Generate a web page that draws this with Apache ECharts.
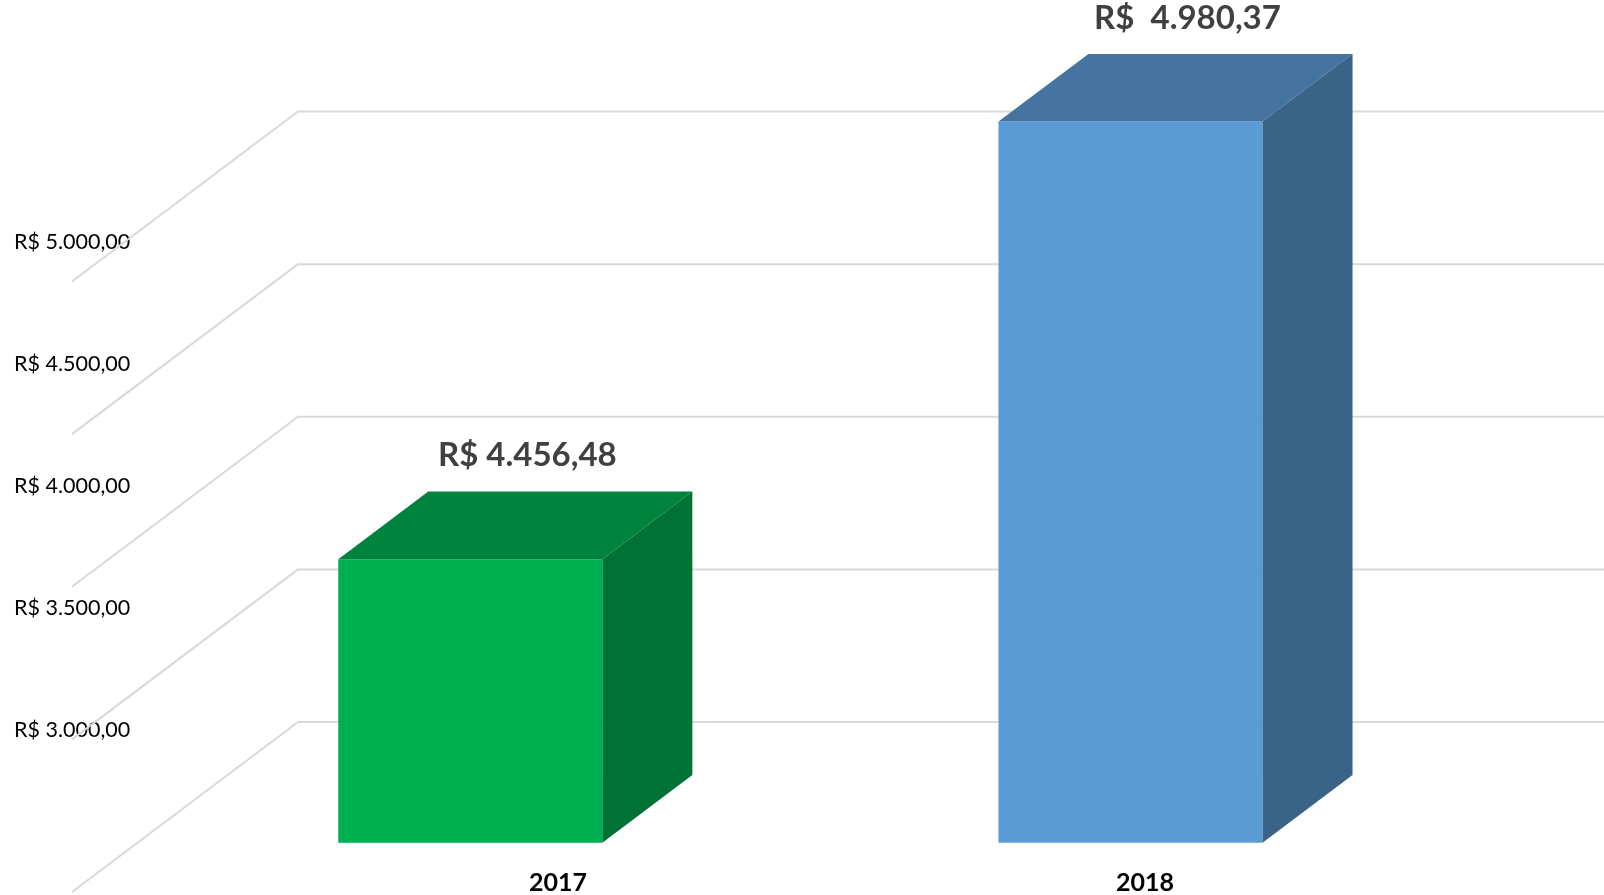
<!DOCTYPE html>
<html>
<head>
<meta charset="utf-8">
<script src="https://cdn.jsdelivr.net/npm/echarts@6/dist/echarts.min.js"></script>
<style>
html, body { margin: 0; padding: 0; background: #fff; }
#chart { width: 1604px; height: 895px; }
</style>
</head>
<body>
<div id="chart"></div>
<script>
// dados
const years = ['2017', '2018'];
const values = [4456.48, 4980.37];
const valueLabels = ['R$ 4.456,48', 'R$  4.980,37'];
const wallTicks = [3000, 3500, 4000, 4500, 5000];

// cores das faces (frente, topo, lado)
const frontColors = ['#00B050', '#5B9BD5'];
const topColors = ['#00843D', '#44749F'];
const sideColors = ['#007233', '#396387'];

// escala das barras (perspectiva do excel)
const barAxisMin = 4117;
const barAxisMax = 5100;

// profundidade
const barDepth = [90, -67.6];
const wallDepth = [-226, 170];

function brl(v) {
    let parts = v.toFixed(2).split('.');
    let int = parts[0].replace(/\B(?=(\d{3})+(?!\d))/g, '.');
    return 'R$ ' + int + ',' + parts[1];
}

let chartObj = echarts.init(document.getElementById('chart'));

function renderWall(params, api) {
    let p = api.coord([0, api.value(1)]);
    let cs = params.coordSys;
    let lineStyle = { stroke: '#D9D9D9', lineWidth: 2 };
    return {
        type: 'group',
        children: [
            {
                type: 'line',
                shape: { x1: p[0], y1: p[1], x2: cs.x + cs.width, y2: p[1] },
                style: lineStyle
            },
            {
                type: 'line',
                shape: { x1: p[0], y1: p[1], x2: p[0] + wallDepth[0], y2: p[1] + wallDepth[1] },
                style: lineStyle
            }
        ]
    };
}

function renderBar(params, api) {
    let i = params.dataIndex;
    let top = api.coord([api.value(0), api.value(1)]);
    let base = api.coord([api.value(0), barAxisMin]);
    let w = api.size([1, 0])[0] * 0.4;
    let x0 = top[0] - w / 2;
    let x1 = x0 + w;
    let y0 = top[1];
    let y1 = base[1];
    let dx = barDepth[0], dy = barDepth[1];
    return {
        type: 'group',
        children: [
            {
                type: 'rect',
                shape: { x: x0, y: y0, width: w, height: y1 - y0 },
                style: { fill: frontColors[i] }
            },
            {
                type: 'polygon',
                shape: { points: [[x0, y0], [x0 + dx, y0 + dy], [x1 + dx, y0 + dy], [x1, y0]] },
                style: { fill: topColors[i] }
            },
            {
                type: 'polygon',
                shape: { points: [[x1, y0], [x1 + dx, y0 + dy], [x1 + dx, y1 + dy], [x1, y1]] },
                style: { fill: sideColors[i] }
            },
            {
                type: 'text',
                style: {
                    text: valueLabels[i],
                    x: top[0] + dx / 2 + 12,
                    y: y0 + dy - 36,
                    align: 'center',
                    verticalAlign: 'middle',
                    fontFamily: 'Lato',
                    fontWeight: 'bold',
                    fontSize: 33,
                    fill: '#404040'
                }
            }
        ]
    };
}

let options = {
    animation: false,
    backgroundColor: '#fff',
    grid: [
        { left: 298, right: 0, top: 111.5, bottom: 173 },
        { left: 14, width: 200, top: 241.7, bottom: 165 },
        { left: 140.2, right: 143.4, top: 21.6, bottom: 52.3 },
        { left: 264.5, right: 165.5, top: 100, bottom: 25 }
    ],
    xAxis: [
        { gridIndex: 0, type: 'value', min: 0, max: 1, show: false },
        { gridIndex: 1, type: 'value', show: false },
        { gridIndex: 2, type: 'category', data: years, show: false },
        {
            gridIndex: 3,
            type: 'category',
            data: years,
            axisLine: { show: false },
            axisTick: { show: false },
            axisLabel: {
                margin: 13,
                verticalAlign: 'middle',
                fontFamily: 'Lato',
                fontWeight: 'bold',
                fontSize: 25,
                color: '#000'
            }
        }
    ],
    yAxis: [
        { gridIndex: 0, type: 'value', min: 3000, max: 5000, interval: 500, show: false },
        {
            gridIndex: 1,
            type: 'value',
            min: 3000,
            max: 5000,
            interval: 500,
            axisLine: { show: false },
            axisTick: { show: false },
            splitLine: { show: false },
            axisLabel: {
                align: 'left',
                margin: 0,
                formatter: brl,
                fontFamily: 'Lato',
                fontSize: 21.5,
                color: '#000'
            }
        },
        { gridIndex: 2, type: 'value', min: barAxisMin, max: barAxisMax, show: false },
        { gridIndex: 3, type: 'value', show: false }
    ],
    series: [
        {
            type: 'custom',
            xAxisIndex: 0,
            yAxisIndex: 0,
            silent: true,
            z: 1,
            renderItem: renderWall,
            data: wallTicks.map(v => [0, v])
        },
        {
            type: 'custom',
            xAxisIndex: 2,
            yAxisIndex: 2,
            z: 2,
            renderItem: renderBar,
            data: values.map((v, i) => [i, v])
        }
    ]
};

chartObj.setOption(options);
</script>
</body>
</html>
